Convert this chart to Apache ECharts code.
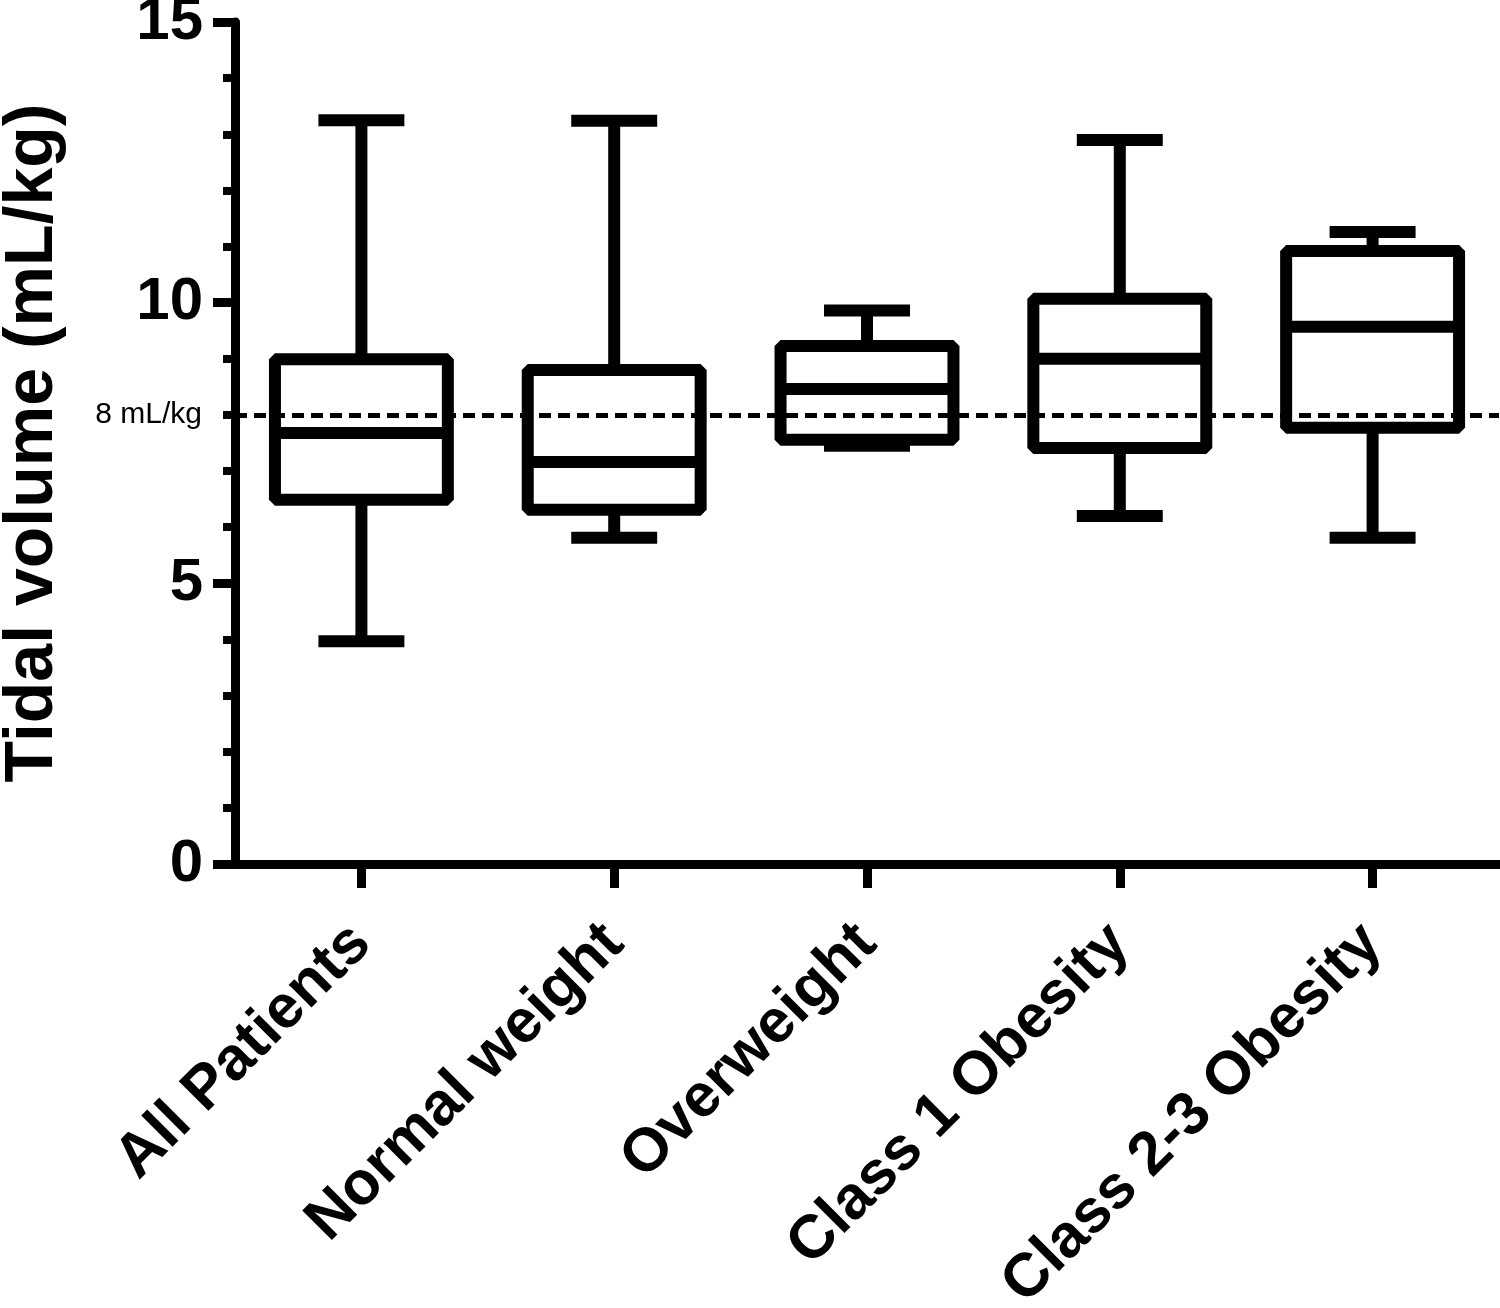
<!DOCTYPE html>
<html>
<head>
<meta charset="utf-8">
<script src="https://cdn.jsdelivr.net/npm/echarts@6/dist/echarts.min.js"></script>
<style>
  html, body { margin: 0; padding: 0; background: #fff; }
  #chart { width: 1500px; height: 1308px; }
</style>
</head>
<body>
<div id="chart"></div>
<script>
// ---- data ----
const categories = ['All Patients', 'Normal weight', 'Overweight', 'Class 1 Obesity', 'Class 2-3 Obesity'];
const mins    = [3.97, 5.81, 7.45, 6.20, 5.81];
const q1s     = [6.49, 6.31, 7.56, 7.41, 7.77];
const medians = [7.68, 7.16, 8.46, 9.00, 9.57];
const q3s     = [8.99, 8.80, 9.23, 10.07, 10.92];
const maxs    = [13.25, 13.24, 9.86, 12.90, 11.26];
const yTicks  = [0, 5, 10, 15];
const refValue = 8;
const refLabel = '8 mL/kg';
const yTitle = 'Tidal volume (mL/kg)';

const boxData = categories.map((c, i) => [i, mins[i], q1s[i], medians[i], q3s[i], maxs[i]]);

const LW = 12;
const FONT = '"Liberation Sans", Arial, Helvetica, sans-serif';

function renderBox(params, api) {
  const i = api.value(0);
  const pMin = api.coord([i, api.value(1)]);
  const pQ1 = api.coord([i, api.value(2)]);
  const pMed = api.coord([i, api.value(3)]);
  const pQ3 = api.coord([i, api.value(4)]);
  const pMax = api.coord([i, api.value(5)]);
  const band = api.size([1, 0])[0];
  const hw = band * 0.342;
  const cw = band * 0.17;
  const cx = pMed[0];
  const ls = { stroke: '#000', lineWidth: LW, fill: null, lineCap: 'butt' };
  const line = (x1, y1, x2, y2) => ({ type: 'line', shape: { x1, y1, x2, y2 }, style: ls });
  return {
    type: 'group',
    children: [
      line(cx, pQ3[1], cx, pMax[1]),
      line(cx - cw, pMax[1], cx + cw, pMax[1]),
      line(cx, pQ1[1], cx, pMin[1]),
      line(cx - cw, pMin[1], cx + cw, pMin[1]),
      {
        type: 'rect',
        shape: { x: cx - hw, y: pQ3[1], width: 2 * hw, height: pQ1[1] - pQ3[1] },
        style: { stroke: '#000', lineWidth: LW, fill: null, lineJoin: 'bevel' }
      },
      line(cx - hw, pMed[1], cx + hw, pMed[1])
    ]
  };
}

const chart = echarts.init(document.getElementById('chart'), null, { renderer: 'canvas' });
chart.setOption({
  animation: false,
  backgroundColor: '#fff',
  grid: { left: 235, right: 1, top: 22, bottom: 444, containLabel: false, outerBoundsMode: 'none' },
  xAxis: {
    type: 'category',
    data: categories,
    axisLine: { show: true, lineStyle: { color: '#000', width: 9 } },
    axisTick: { show: true, alignWithLabel: true, length: 24, lineStyle: { color: '#000', width: 9 } },
    axisLabel: {
      rotate: 45, interval: 0, margin: 70,
      color: '#000', fontSize: 61, fontWeight: 'bold', fontFamily: FONT
    },
    splitLine: { show: false }
  },
  yAxis: {
    type: 'value',
    min: yTicks[0], max: yTicks[yTicks.length - 1], interval: 5,
    name: yTitle,
    nameLocation: 'middle',
    nameGap: 168,
    nameTextStyle: { color: '#000', fontSize: 68, fontWeight: 'bold', fontFamily: FONT },
    axisLine: { show: true, lineStyle: { color: '#000', width: 9 } },
    axisTick: { show: true, length: 22, lineStyle: { color: '#000', width: 9 } },
    minorTick: { show: true, splitNumber: 5, length: 12, lineStyle: { color: '#000', width: 8 } },
    axisLabel: { color: '#000', fontSize: 60, fontWeight: 'bold', fontFamily: FONT, margin: 32 },
    splitLine: { show: false },
    minorSplitLine: { show: false }
  },
  series: [{
    type: 'custom',
    renderItem: renderBox,
    data: boxData,
    encode: { x: 0, y: [1, 2, 3, 4, 5] },
    clip: false,
    markLine: {
      silent: true,
      symbol: 'none',
      animation: false,
      data: [{ yAxis: refValue }],
      lineStyle: { color: '#000', width: 5, type: [12, 7] },
      label: {
        show: true, position: 'start', distance: 33,
        formatter: refLabel, color: '#000', fontSize: 30, fontFamily: FONT
      }
    }
  }]
});
</script>
</body>
</html>
